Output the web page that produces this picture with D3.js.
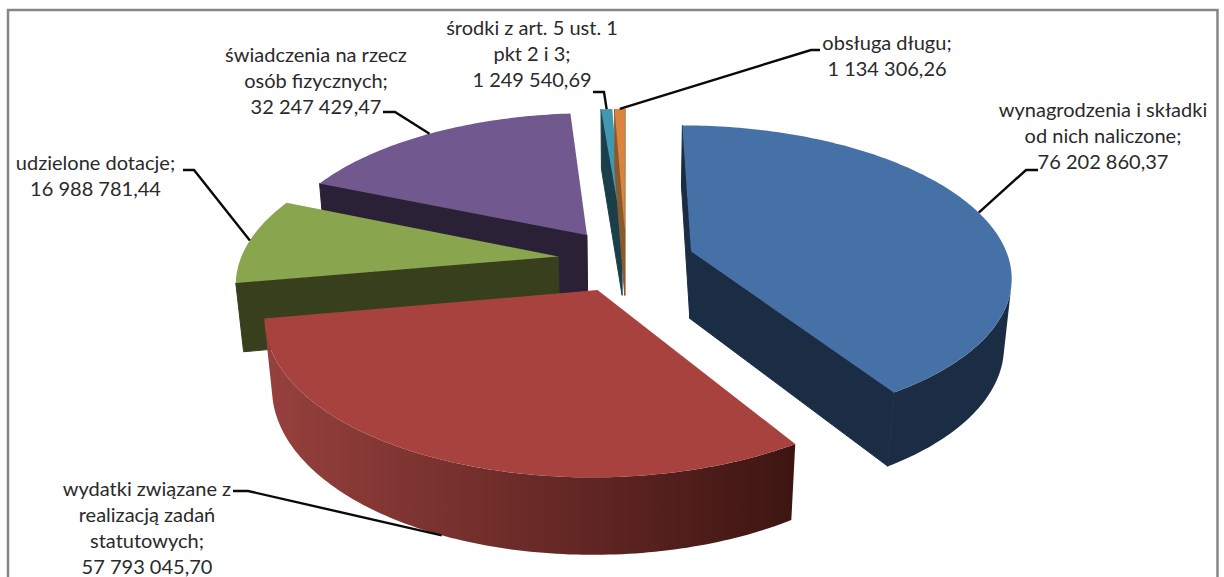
<!DOCTYPE html>
<html><head><meta charset="utf-8">
<script src="https://cdn.jsdelivr.net/npm/d3@7"></script>
<style>html,body{margin:0;padding:0;background:#fff;overflow:hidden}svg{display:block}</style>
</head><body><svg id="c" width="1224" height="577"></svg>
<script>
const categoryLines = [
  ["wynagrodzenia i składki","od nich naliczone;"],
  ["wydatki związane z","realizacją zadań","statutowych;"],
  ["udzielone dotacje;"],
  ["świadczenia na rzecz","osób fizycznych;"],
  ["środki z art. 5 ust. 1","pkt 2 i 3;"],
  ["obsługa długu;"]
];
const values = [76202860.37, 57793045.70, 16988781.44, 32247429.47, 1249540.69, 1134306.26];
const topColors = ["#4571A7","#A8423F","#89A54E","#71588F","#4198AF","#DB843D"];
const wallLight = ["#1B2D45","#96403D","#383F1C","#2B2136","#1A3F4B","#8A5A2C"];
const wallDark  = ["#1B2D45","#3E1512","#383F1C","#2B2136","#1A3F4B","#8A5A2C"];

// layout (not data)
const labelCx = [1103,147,95.5,316,532,887];
const labelY0 = [117,496,170,62,35,50];
const lineGap = 25.9;
const leaderRim = [0,-1,0,0,0,0];      // 0: end at top rim, -1: at the bottom rim
const leaderElbows = [
  [[1026,170],[1038,170]],
  [[248,491],[233,491]],
  [[194,170],[183,170]],
  [[395,112],[383,112]],
  [[604,92],[593,92]],
  [[811,50],[820,50]]
];
const drawOrder = [3,4,5,2,0,1];

const x0=626, y0=260, A=318, tiltSin=0.465, tiltCos=Math.sqrt(1-tiltSin*tiltSin), D=5.7;
const explode=0.215, thickness=0.245;

function project(x,y,z){
  const w=y*tiltCos-z*tiltSin, s=D/(D+w);
  return [x0+A*x*s, y0-A*(y*tiltSin+z*tiltCos)*s];
}
const svg=d3.select("#c");
const fmt=d3.formatLocale({decimal:",",thousands:" ",grouping:[3],currency:["",""]}).format(",.2f");
const arcs=d3.pie().sort(null).value(d=>d).startAngle(0).endAngle(2*Math.PI)(values);
const line=d3.line().curve(d3.curveLinearClosed);
const defs=svg.append("defs");

// frame
svg.append("rect").attr("x",8).attr("y",10).attr("width",1209.5).attr("height",600)
  .attr("fill","#fff").attr("stroke","#868686").attr("stroke-width",2.5);

drawOrder.forEach(i=>{
  const a=arcs[i], mid=(a.startAngle+a.endAngle)/2;
  const dx=Math.sin(mid)*explode, dy=Math.cos(mid)*explode;
  const P=(t,r,z)=>project(dx+r*Math.sin(t),dy+r*Math.cos(t),z);
  const n=Math.max(2,Math.ceil((a.endAngle-a.startAngle)/(Math.PI/180)));
  const ts=d3.range(n+1).map(j=>a.startAngle+(a.endAngle-a.startAngle)*j/n);
  const g=svg.append("g");
  const xs=ts.map(t=>P(t,1,-thickness)[0]);
  const gx=d3.extent(xs);
  const gid="wall"+i;
  const lg=defs.append("linearGradient").attr("id",gid).attr("gradientUnits","userSpaceOnUse")
    .attr("x1",gx[0]).attr("x2",gx[1]).attr("y1",0).attr("y2",0);
  lg.append("stop").attr("offset",0).attr("stop-color",wallLight[i]);
  lg.append("stop").attr("offset",1).attr("stop-color",wallDark[i]);
  // outer wall: one path along the part of the rim that faces the viewer
  const visible=ts.filter((t,j)=>{
    const u=ts[Math.min(j+1,n)], v=j===n?ts[j-1]:t;
    const q=j===n?[P(v,1,0),P(t,1,0),P(t,1,-thickness),P(v,1,-thickness)]:[P(t,1,0),P(u,1,0),P(u,1,-thickness),P(t,1,-thickness)];
    return d3.polygonArea(q)>0;
  });
  if(visible.length>1){
    const wall=visible.map(t=>P(t,1,0)).concat(visible.slice().reverse().map(t=>P(t,1,-thickness)));
    g.append("path").attr("d",line(wall)).attr("fill",`url(#${gid})`);
  }
  const face=(pts,c)=>{ if(d3.polygonArea(pts)>0) g.append("path").attr("d",line(pts)).attr("fill",c).attr("stroke",c).attr("stroke-width",1); };
  face([P(a.startAngle,1,0),P(a.startAngle,1,-thickness),P(0,0,-thickness),P(0,0,0)],wallDark[i]);
  face([P(a.endAngle,1,-thickness),P(a.endAngle,1,0),P(0,0,0),P(0,0,-thickness)],wallLight[i]);
  const topPts=[P(0,0,0)].concat(ts.map(t=>P(t,1,0)));
  g.append("path").attr("d",line(topPts)).attr("fill",topColors[i]);
});

// leaders + labels
arcs.forEach((a,i)=>{
  const mid=(a.startAngle+a.endAngle)/2;
  const dx=Math.sin(mid)*explode, dy=Math.cos(mid)*explode;
  const z=leaderRim[i]*thickness;
  const start=project(dx+Math.sin(mid),dy+Math.cos(mid),z);
  svg.append("path").attr("d",d3.line()([start,...leaderElbows[i]]))
    .attr("fill","none").attr("stroke","#0a0a0a").attr("stroke-width",2.4);
  const lines=[...categoryLines[i],fmt(values[i])];
  svg.append("text").attr("text-anchor","middle").attr("font-family","Lato")
    .attr("font-size",20).attr("fill","#2a2a2a")
    .selectAll("tspan").data(lines).join("tspan")
    .attr("x",labelCx[i]).attr("y",(d,j)=>labelY0[i]+j*lineGap).text(d=>d);
});
</script></body></html>
